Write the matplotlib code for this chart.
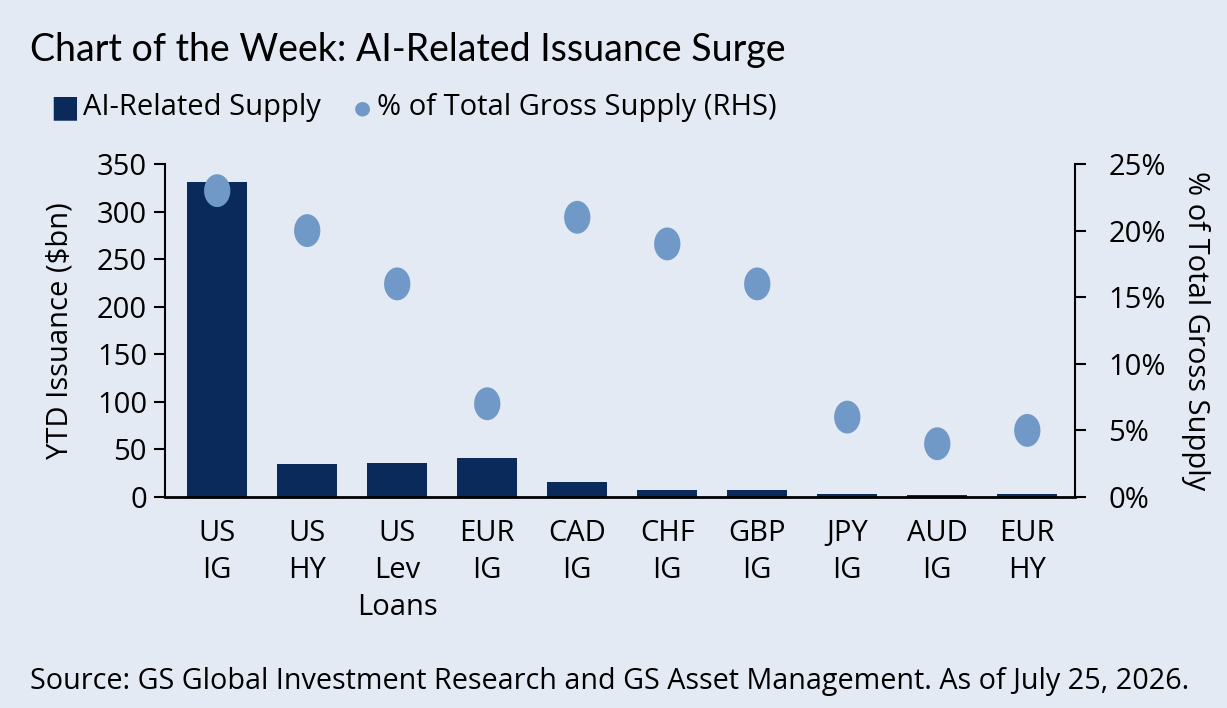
import matplotlib
matplotlib.use("Agg")
import matplotlib.pyplot as plt
import numpy as np
from matplotlib.path import Path
from matplotlib.ticker import FuncFormatter

categories = ["US\nIG", "US\nHY", "US\nLev\nLoans", "EUR\nIG", "CAD\nIG", "CHF\nIG",
              "GBP\nIG", "JPY\nIG", "AUD\nIG", "EUR\nHY"]
supply_bn = [331, 35, 36, 41, 16, 7, 7, 3, 2, 3]
pct_total = [23, 20, 16, 7, 21, 19, 16, 6, 4, 5]
left_ticks = [0, 50, 100, 150, 200, 250, 300, 350]
right_ticks = [0, 5, 10, 15, 20, 25]

BG = "#E4EAF4"
BAR = "#0A2A5C"
DOT = "#7099C8"
FONT = ["Open Sans", "DejaVu Sans"]
plt.rcParams["font.family"] = FONT

fig = plt.figure(figsize=(12.27, 7.08), dpi=100)
fig.patch.set_facecolor(BG)
ax = fig.add_axes([165/1227, 1-497/708, (1075-165)/1227, (497-164)/708])
ax.set_facecolor(BG)
x = np.arange(len(categories))
ax.bar(x, supply_bn, width=0.67, color=BAR, zorder=2)
ax.set_ylim(0, 350)
ax.set_xlim(-0.58, 9.53)
ax.set_yticks(left_ticks)
ax.set_xticks(x)
ax.set_xticklabels(categories, fontsize=21, linespacing=1.36)
ax.tick_params(axis="x", length=0, pad=16)
ax.tick_params(axis="y", direction="out", length=8, width=1.5, labelsize=21, pad=5)
for s in ["top", "right"]:
    ax.spines[s].set_visible(False)
ax.spines["left"].set_linewidth(1.5)
ax.spines["bottom"].set_linewidth(2)
ax.set_ylabel("YTD Issuance ($bn)", fontsize=21, labelpad=16)

ax2 = ax.twinx()
# tall ellipse marker
t = np.linspace(0, 2*np.pi, 60)
verts = np.column_stack([0.8*np.cos(t), np.sin(t)])
ell = Path(verts, closed=True)
ax2.scatter(x, pct_total, marker=ell, s=560, color=DOT, edgecolors="none", zorder=3)
ax2.set_ylim(0, 25)
ax2.set_yticks(right_ticks)
ax2.yaxis.set_major_formatter(FuncFormatter(lambda v, p: f"{v:.0f}%"))
ax2.tick_params(axis="y", direction="out", length=8, width=1.5, labelsize=21, pad=16)
for s in ["top", "left", "bottom"]:
    ax2.spines[s].set_visible(False)
ax2.spines["right"].set_linewidth(1.5)
ax2.set_ylabel("% of Total Gross Supply", fontsize=21, rotation=-90, labelpad=32)

fig.text(30/1227, 1-50/708, "Chart of the Week: AI-Related Issuance Surge",
         fontsize=27, va="center", ha="left",
         family=["Lato", "DejaVu Sans"])

# legend
fig.text(50/1227, 1-108/708, "\u25A0", fontsize=22, color=BAR, va="center", ha="left")
fig.text(83/1227, 1-108/708, "AI-Related Supply", fontsize=21, va="center", ha="left")
fig.text(354/1227, 1-108/708, "\u25CF", fontsize=14, color=DOT, va="center", ha="left")
fig.text(377/1227, 1-108/708, "% of Total Gross Supply (RHS)", fontsize=21, va="center", ha="left")

fig.text(30/1227, 1-682/708,
         "Source: GS Global Investment Research and GS Asset Management. As of July 25, 2026.",
         fontsize=20.7, va="center", ha="left")

fig.savefig("out.png", dpi=100, facecolor=BG)
